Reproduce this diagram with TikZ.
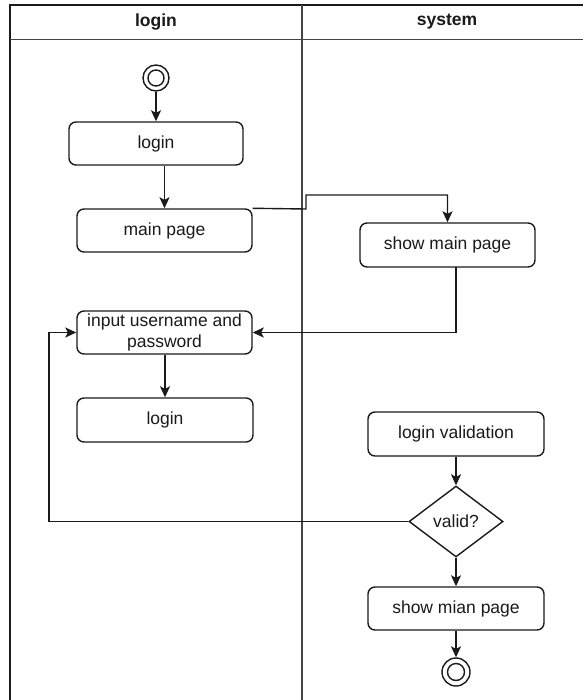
\documentclass[tikz,border=0pt]{standalone}
\usepackage{fontspec}
\setmainfont{Liberation Sans}
\usetikzlibrary{shapes.geometric,arrows.meta}

\definecolor{ink}{HTML}{1A1A1A}
\definecolor{poolline}{HTML}{444444}

\tikzset{
  action/.style={draw=ink, line width=1.4pt, rounded corners=7pt,
    minimum width=175pt, minimum height=43pt, inner sep=0pt,
    font=\fontsize{17.5}{21}\selectfont, text=ink, align=center},
  decision/.style={draw=ink, line width=1.4pt, diamond, aspect=1.32,
    minimum width=94pt, minimum height=71pt, inner sep=0pt,
    font=\fontsize{17.5}{21}\selectfont, text=ink},
  ring/.style={draw=ink, line width=1.4pt, circle, inner sep=0pt},
  flow/.style={draw=ink, line width=1.4pt,
    -{Stealth[length=11pt, width=10pt, inset=2.5pt]}},
  lane/.style={draw=poolline, line width=1.6pt},
  poolframe/.style={draw=ink, line width=1.8pt},
  lanetitle/.style={font=\bfseries\fontsize{17.5}{21}\selectfont, text=ink}
}

\begin{document}
\begin{tikzpicture}[x=1pt, y=-1pt]
  \useasboundingbox (0,0) rectangle (582,700);

  % swimlane pool with header row and lane divider
  \draw[poolframe] (10,5) rectangle (600,720);
  \draw[lane] (10,39.5) -- (600,39.5);
  \draw[lane] (302,5) -- (302,720);
  \node[lanetitle] (hlogin) at (156,22) {login};
  \node[lanetitle] (hsystem) at (447,22) {system};

  % initial node
  \node[ring, minimum size=26pt] (start) at (156,78) {};
  \node[ring, minimum size=16pt] (startin) at (156,78) {};

  % login lane actions
  \node[action, minimum width=174pt] (login1) at (156,143.5) {login};
  \node[action] (mainpage) at (164.5,230.5) {main page};
  \node[action] (input) at (164.5,332.5) {input username and\\password};
  \node[action, minimum width=176pt, minimum height=44pt] (login2) at (165,420) {login};

  % system lane actions
  \node[action, minimum height=44pt] (showmain) at (447.5,245) {show main page};
  \node[action, minimum width=176pt, minimum height=44pt] (validation) at (456,434) {login validation};
  \node[decision] (valid) at (456,521.5) {valid?};
  \node[action, minimum width=176pt] (showmian) at (456,608.5) {show mian page};

  % final node
  \node[ring, minimum size=28pt] (final) at (456,672) {};
  \node[ring, minimum size=17pt] (finalin) at (456,672) {};

  % routing points
  \coordinate (jog1) at (306,209);
  \coordinate (jog2) at (306,195);
  \coordinate (smout) at (456,267);
  \coordinate (smturn) at (456,332.5);
  \coordinate (loopleft) at (49,521.5);
  \coordinate (loopup) at (49,332.5);

  % connectors
  \draw[flow] (start) -- (login1);
  \draw[flow] (login1.south -| mainpage.north) -- (mainpage.north);
  \draw[flow] (mainpage.north east) -- (jog1) -- (jog2) -- (jog2 -| showmain.north) -- (showmain.north);
  \draw[flow] (smout) -- (smturn) -- (input.east);
  \draw[flow] (input.south -| login2.north) -- (login2.north);
  \draw[flow] (validation) -- (valid);
  \draw[flow] (valid.west) -- (loopleft) -- (loopup) -- (input.west);
  \draw[flow] (valid) -- (showmian);
  \draw[flow] (showmian) -- (final);
\end{tikzpicture}
\end{document}
